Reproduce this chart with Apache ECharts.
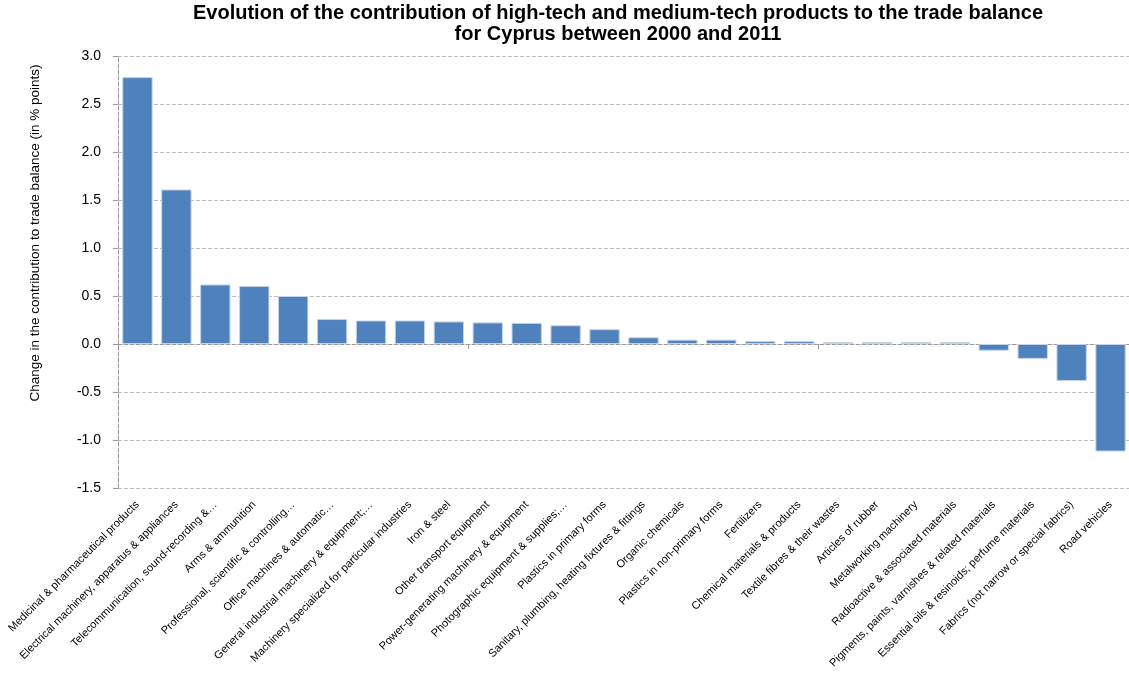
<!DOCTYPE html>
<html>
<head>
<meta charset="utf-8">
<script src="https://cdn.jsdelivr.net/npm/echarts@6/dist/echarts.min.js"></script>
<style>
html,body{margin:0;padding:0;background:#fff;}
#chart{width:1129px;height:674px;}
</style>
</head>
<body>
<div id="chart"></div>
<script>
const categories = [
  "Medicinal & pharmaceutical products",
  "Electrical machinery, apparatus & appliances",
  "Telecommunication, sound-recording &\u2026",
  "Arms & ammunition",
  "Professional, scientific & controlling\u2026",
  "Office machines & automatic\u2026",
  "General industrial machinery & equipment;\u2026",
  "Machinery specialized for particular industries",
  "Iron & steel",
  "Other transport equipment",
  "Power-generating machinery & equipment",
  "Photographic equipment & supplies;\u2026",
  "Plastics in primary forms",
  "Sanitary, plumbing, heating fixtures & fittings",
  "Organic chemicals",
  "Plastics in non-primary forms",
  "Fertilizers",
  "Chemical materials & products",
  "Textile fibres & their wastes",
  "Articles of rubber",
  "Metalworking machinery",
  "Radioactive & associated materials",
  "Pigments, paints, varnishes & related materials",
  "Essential oils & resinoids; perfume materials",
  "Fabrics (not narrow or special fabrics)",
  "Road vehicles"
];
const values = [2.78, 1.61, 0.62, 0.605, 0.50, 0.26, 0.245, 0.245, 0.235, 0.225, 0.22, 0.195, 0.155, 0.07, 0.045, 0.045, 0.03, 0.03, 0.02, 0.02, 0.02, 0.02, -0.07, -0.155, -0.385, -1.12];
const yTicks = {min: -1.5, max: 3.0, interval: 0.5};

const chart = echarts.init(document.getElementById('chart'), null, {renderer: 'canvas'});
chart.setOption({
  animation: false,
  title: {
    text: 'Evolution of the contribution of high-tech and medium-tech products to the trade balance\nfor Cyprus between 2000 and 2011',
    left: 613, top: -2, textAlign: 'center',
    textStyle: {fontFamily: 'Liberation Sans, Arial, sans-serif', fontWeight: 'bold', fontSize: 20, lineHeight: 21, color: '#000'}
  },
  graphic: [{
    type: 'text', x: 35, y: 233, rotation: Math.PI / 2,
    style: {text: 'Change in the contribution to trade balance (in % points)', align: 'center', verticalAlign: 'middle',
      font: '13.5px "Liberation Sans", Arial, sans-serif', fill: '#000'}
  }],
  grid: {left: 118, top: 56, right: -1, bottom: 186, containLabel: false, outerBoundsMode: 'none'},
  xAxis: [{
    type: 'category', data: categories,
    axisLine: {onZero: true, lineStyle: {color: '#999', type: 'dashed', width: 1}},
    axisTick: {show: true, length: 5, lineStyle: {color: '#999'}},
    axisLabel: {show: false}, splitLine: {show: false}
  }, {
    type: 'category', data: categories, position: 'bottom',
    axisLine: {show: false, onZero: false}, axisTick: {show: false},
    axisLabel: {show: true, interval: 0, rotate: 45, margin: 15, color: '#000',
      fontFamily: 'Liberation Sans, Arial, sans-serif', fontSize: 11}
  }],
  yAxis: {
    type: 'value', min: yTicks.min, max: yTicks.max, interval: yTicks.interval,
    axisLine: {show: true, lineStyle: {color: '#999', type: 'dashed'}},
    axisTick: {show: true, length: 5, inside: false, lineStyle: {color: '#999'}},
    axisLabel: {formatter: v => v.toFixed(1), color: '#000', fontSize: 14, margin: 17,
      fontFamily: 'Liberation Sans, Arial, sans-serif'},
    splitLine: {show: true, lineStyle: {color: '#bbb', type: 'dashed'}}
  },
  series: [{
    type: 'bar', data: values, xAxisIndex: 0, barCategoryGap: '22%',
    itemStyle: {color: '#4f81bd', borderColor: '#c4d4e8', borderWidth: 1}
  }]
});
</script>
</body>
</html>
